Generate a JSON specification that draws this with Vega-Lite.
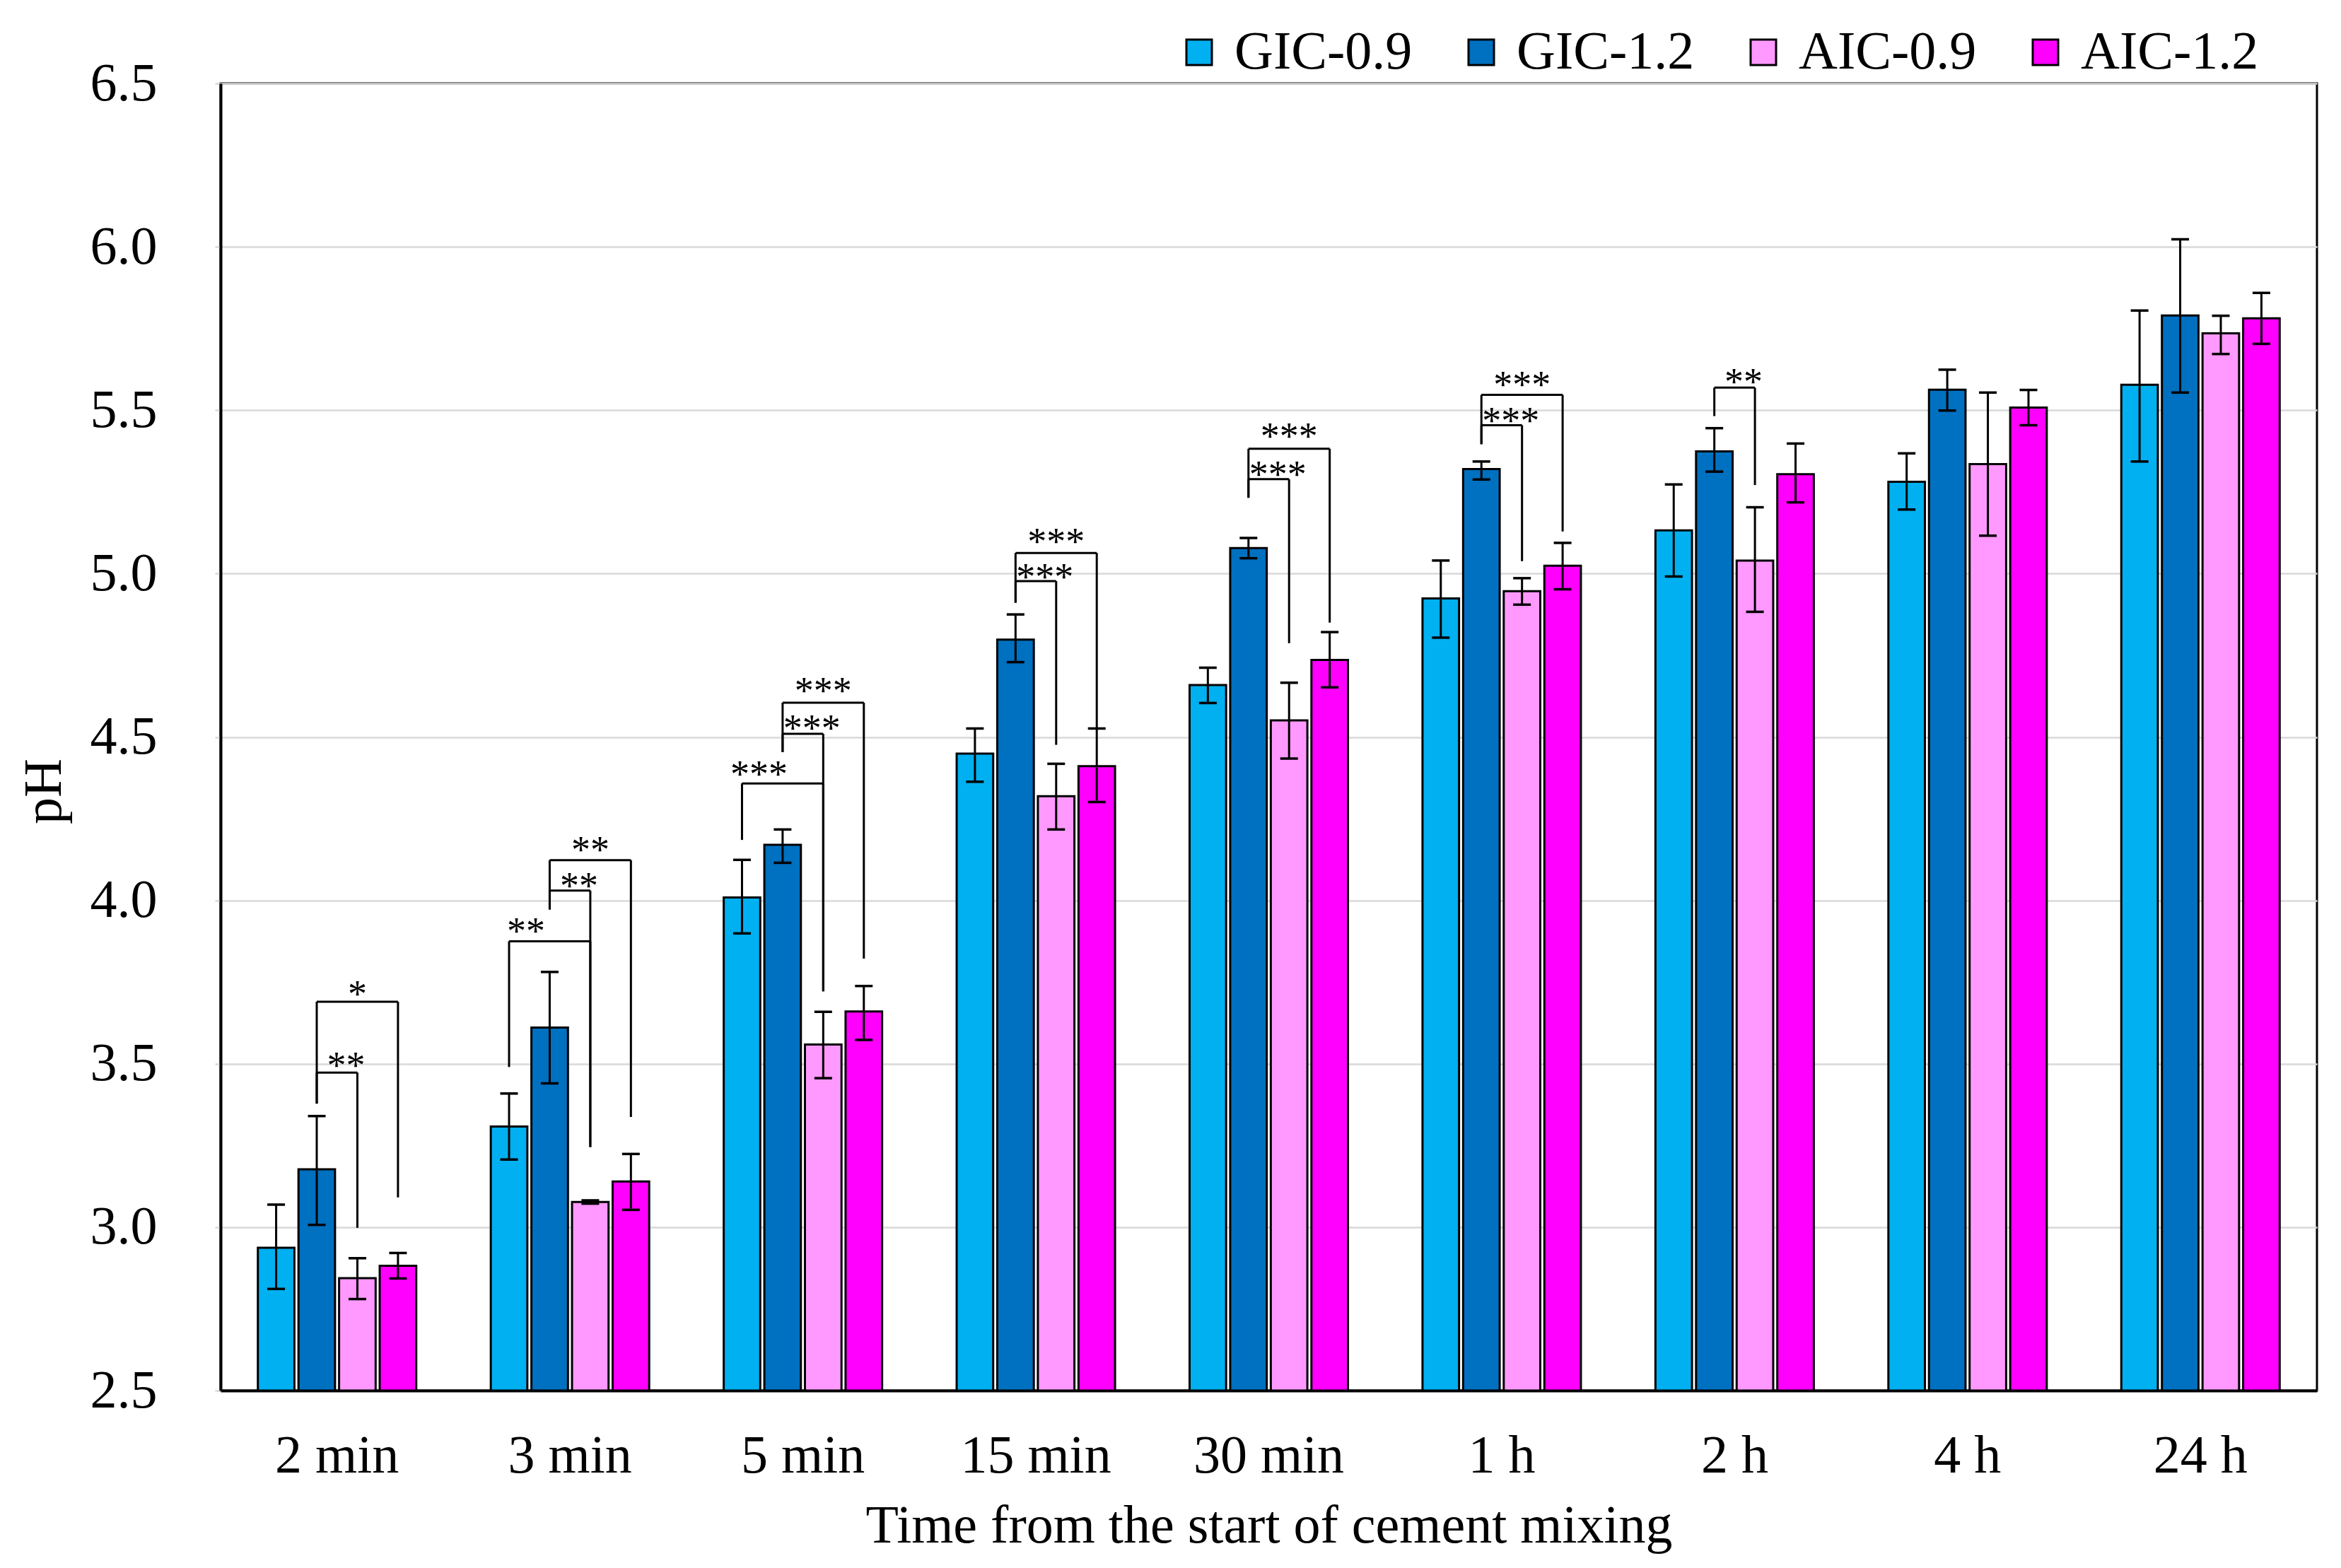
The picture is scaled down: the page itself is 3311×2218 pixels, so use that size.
{
  "$schema": "https://vega.github.io/schema/vega-lite/v6.json",
  "width": 2965,
  "height": 1849,
  "autosize": {"type": "none"},
  "padding": {"left": 312, "top": 118, "right": 34, "bottom": 251},
  "background": "white",
  "config": {
    "font": "Liberation Serif",
    "view": {"stroke": "black", "strokeWidth": 3},
    "legend": {
      "orient": "none",
      "legendX": 1346,
      "legendY": -82,
      "direction": "horizontal",
      "symbolType": "square",
      "symbolSize": 1296,
      "symbolStrokeColor": "black",
      "symbolStrokeWidth": 3,
      "symbolOpacity": 1,
      "labelFont": "Liberation Serif",
      "labelFontSize": 76,
      "labelColor": "black",
      "labelOffset": 12,
      "columnPadding": 59,
      "labelLimit": 0
    }
  },
  "datasets": {
    "bars": [
      {"time": "2 min", "series": "GIC-0.9", "ph": 2.937, "lo": 2.811, "hi": 3.069},
      {"time": "2 min", "series": "GIC-1.2", "ph": 3.177, "lo": 3.007, "hi": 3.340},
      {"time": "2 min", "series": "AIC-0.9", "ph": 2.844, "lo": 2.780, "hi": 2.905},
      {"time": "2 min", "series": "AIC-1.2", "ph": 2.882, "lo": 2.843, "hi": 2.921},
      {"time": "3 min", "series": "GIC-0.9", "ph": 3.308, "lo": 3.207, "hi": 3.409},
      {"time": "3 min", "series": "GIC-1.2", "ph": 3.611, "lo": 3.440, "hi": 3.781},
      {"time": "3 min", "series": "AIC-0.9", "ph": 3.077, "lo": 3.072, "hi": 3.082},
      {"time": "3 min", "series": "AIC-1.2", "ph": 3.140, "lo": 3.053, "hi": 3.224},
      {"time": "5 min", "series": "GIC-0.9", "ph": 4.009, "lo": 3.899, "hi": 4.124},
      {"time": "5 min", "series": "GIC-1.2", "ph": 4.170, "lo": 4.115, "hi": 4.217},
      {"time": "5 min", "series": "AIC-0.9", "ph": 3.559, "lo": 3.456, "hi": 3.659},
      {"time": "5 min", "series": "AIC-1.2", "ph": 3.660, "lo": 3.573, "hi": 3.738},
      {"time": "15 min", "series": "GIC-0.9", "ph": 4.449, "lo": 4.363, "hi": 4.526},
      {"time": "15 min", "series": "GIC-1.2", "ph": 4.798, "lo": 4.729, "hi": 4.875},
      {"time": "15 min", "series": "AIC-0.9", "ph": 4.319, "lo": 4.217, "hi": 4.418},
      {"time": "15 min", "series": "AIC-1.2", "ph": 4.411, "lo": 4.301, "hi": 4.526},
      {"time": "30 min", "series": "GIC-0.9", "ph": 4.659, "lo": 4.604, "hi": 4.712},
      {"time": "30 min", "series": "GIC-1.2", "ph": 5.078, "lo": 5.047, "hi": 5.109},
      {"time": "30 min", "series": "AIC-0.9", "ph": 4.551, "lo": 4.434, "hi": 4.666},
      {"time": "30 min", "series": "AIC-1.2", "ph": 4.736, "lo": 4.652, "hi": 4.821},
      {"time": "1 h", "series": "GIC-0.9", "ph": 4.924, "lo": 4.804, "hi": 5.040},
      {"time": "1 h", "series": "GIC-1.2", "ph": 5.320, "lo": 5.288, "hi": 5.343},
      {"time": "1 h", "series": "AIC-0.9", "ph": 4.946, "lo": 4.905, "hi": 4.986},
      {"time": "1 h", "series": "AIC-1.2", "ph": 5.024, "lo": 4.952, "hi": 5.094},
      {"time": "2 h", "series": "GIC-0.9", "ph": 5.132, "lo": 4.991, "hi": 5.273},
      {"time": "2 h", "series": "GIC-1.2", "ph": 5.374, "lo": 5.312, "hi": 5.445},
      {"time": "2 h", "series": "AIC-0.9", "ph": 5.040, "lo": 4.883, "hi": 5.203},
      {"time": "2 h", "series": "AIC-1.2", "ph": 5.304, "lo": 5.218, "hi": 5.398},
      {"time": "4 h", "series": "GIC-0.9", "ph": 5.281, "lo": 5.196, "hi": 5.368},
      {"time": "4 h", "series": "GIC-1.2", "ph": 5.563, "lo": 5.499, "hi": 5.624},
      {"time": "4 h", "series": "AIC-0.9", "ph": 5.335, "lo": 5.116, "hi": 5.554},
      {"time": "4 h", "series": "AIC-1.2", "ph": 5.508, "lo": 5.454, "hi": 5.562},
      {"time": "24 h", "series": "GIC-0.9", "ph": 5.578, "lo": 5.343, "hi": 5.805},
      {"time": "24 h", "series": "GIC-1.2", "ph": 5.790, "lo": 5.554, "hi": 6.023},
      {"time": "24 h", "series": "AIC-0.9", "ph": 5.735, "lo": 5.672, "hi": 5.789},
      {"time": "24 h", "series": "AIC-1.2", "ph": 5.781, "lo": 5.703, "hi": 5.859}
    ],
    "brackets": [
      {"id": "2m-b", "time": "2 min", "from": "GIC-1.2", "to": "AIC-0.9", "level": 3.473, "fromEnd": 3.378, "toEnd": 2.998, "label": "**", "labelY": 3.514},
      {"id": "2m-c", "time": "2 min", "from": "GIC-1.2", "to": "AIC-1.2", "level": 3.690, "fromEnd": 3.378, "toEnd": 3.091, "label": "*", "labelY": 3.734},
      {"id": "3m-a", "time": "3 min", "from": "GIC-0.9", "to": "AIC-0.9", "level": 3.875, "fromEnd": 3.490, "toEnd": 3.245, "label": "**", "labelY": 3.925},
      {"id": "3m-b", "time": "3 min", "from": "GIC-1.2", "to": "AIC-0.9", "level": 4.030, "fromEnd": 3.972, "toEnd": 3.245, "label": "**", "labelY": 4.064},
      {"id": "3m-c", "time": "3 min", "from": "GIC-1.2", "to": "AIC-1.2", "level": 4.123, "fromEnd": 3.972, "toEnd": 3.337, "label": "**", "labelY": 4.174},
      {"id": "5m-a", "time": "5 min", "from": "GIC-0.9", "to": "AIC-0.9", "level": 4.358, "fromEnd": 4.185, "toEnd": 3.722, "label": "***", "labelY": 4.406},
      {"id": "5m-b", "time": "5 min", "from": "GIC-1.2", "to": "AIC-0.9", "level": 4.510, "fromEnd": 4.454, "toEnd": 3.722, "label": "***", "labelY": 4.546},
      {"id": "5m-c", "time": "5 min", "from": "GIC-1.2", "to": "AIC-1.2", "level": 4.605, "fromEnd": 4.454, "toEnd": 3.822, "label": "***", "labelY": 4.661},
      {"id": "15m-b", "time": "15 min", "from": "GIC-1.2", "to": "AIC-0.9", "level": 4.977, "fromEnd": 4.911, "toEnd": 4.476, "label": "***", "labelY": 5.010},
      {"id": "15m-c", "time": "15 min", "from": "GIC-1.2", "to": "AIC-1.2", "level": 5.063, "fromEnd": 4.911, "toEnd": 4.526, "label": "***", "labelY": 5.118},
      {"id": "30m-b", "time": "30 min", "from": "GIC-1.2", "to": "AIC-0.9", "level": 5.289, "fromEnd": 5.232, "toEnd": 4.787, "label": "***", "labelY": 5.324},
      {"id": "30m-c", "time": "30 min", "from": "GIC-1.2", "to": "AIC-1.2", "level": 5.382, "fromEnd": 5.232, "toEnd": 4.850, "label": "***", "labelY": 5.440},
      {"id": "1h-b", "time": "1 h", "from": "GIC-1.2", "to": "AIC-0.9", "level": 5.454, "fromEnd": 5.396, "toEnd": 5.038, "label": "***", "labelY": 5.487},
      {"id": "1h-c", "time": "1 h", "from": "GIC-1.2", "to": "AIC-1.2", "level": 5.547, "fromEnd": 5.396, "toEnd": 5.129, "label": "***", "labelY": 5.598},
      {"id": "2h-b", "time": "2 h", "from": "GIC-1.2", "to": "AIC-0.9", "level": 5.569, "fromEnd": 5.482, "toEnd": 5.271, "label": "**", "labelY": 5.606}
    ]
  },
  "encoding": {
    "x": {
      "field": "time",
      "type": "nominal",
      "title": "Time from the start of cement mixing",
      "scale": {
        "domain": ["2 min", "3 min", "5 min", "15 min", "30 min", "1 h", "2 h", "4 h", "24 h"],
        "paddingInner": 0.32,
        "paddingOuter": 0.16
      },
      "axis": {
        "labelAngle": 0,
        "labelFont": "Liberation Serif",
        "labelFontSize": 76,
        "labelColor": "black",
        "labelLimit": 0,
        "ticks": false,
        "tickSize": 0,
        "labelPadding": 115,
        "labelBaseline": "alphabetic",
        "domainColor": "black",
        "domainWidth": 4,
        "grid": false,
        "titleFont": "Liberation Serif",
        "titleFontSize": 76,
        "titleFontWeight": "normal",
        "titleColor": "black",
        "titleY": 214,
        "titleBaseline": "alphabetic"
      }
    }
  },
  "layer": [
    {
      "data": {"name": "bars"},
      "mark": {"type": "bar", "stroke": "black", "strokeWidth": 3},
      "encoding": {
        "xOffset": {
          "field": "series",
          "type": "nominal",
          "scale": {"domain": ["GIC-0.9", "GIC-1.2", "AIC-0.9", "AIC-1.2"], "paddingInner": 0.1, "paddingOuter": 0}
        },
        "y": {
          "field": "ph",
          "type": "quantitative",
          "title": "pH",
          "scale": {"domain": [2.5, 6.5], "nice": false, "zero": false},
          "axis": {
            "values": [2.5, 3, 3.5, 4, 4.5, 5, 5.5, 6, 6.5],
            "format": ".1f",
            "labelFont": "Liberation Serif",
            "labelFontSize": 76,
            "labelColor": "black",
            "labelPadding": 82,
            "tickSize": 8,
            "tickColor": "#D9D9D9",
            "tickWidth": 2.5,
            "grid": true,
            "gridColor": "#D9D9D9",
            "gridWidth": 2.5,
            "domainColor": "black",
            "domainWidth": 4,
            "titleFont": "Liberation Serif",
            "titleFontSize": 76,
            "titleFontWeight": "normal",
            "titleColor": "black",
            "titleAngle": 270,
            "titleX": -250,
            "titleY": 1001,
            "titleAlign": "center",
            "titleBaseline": "middle"
          }
        },
        "y2": {"datum": 2.5},
        "color": {
          "field": "series",
          "type": "nominal",
          "scale": {
            "domain": ["GIC-0.9", "GIC-1.2", "AIC-0.9", "AIC-1.2"],
            "range": ["#00B0F0", "#0070C0", "#FF99FF", "#FF00FF"]
          },
          "legend": {"title": null}
        }
      }
    },
    {
      "data": {"name": "bars"},
      "mark": {"type": "rule", "color": "black", "strokeWidth": 3},
      "encoding": {
        "xOffset": {"field": "series", "type": "nominal"},
        "y": {"field": "lo", "type": "quantitative", "title": "pH"},
        "y2": {"field": "hi"}
      }
    },
    {
      "data": {"name": "bars"},
      "mark": {"type": "tick", "orient": "horizontal", "color": "black", "size": 25, "thickness": 3.5, "opacity": 1},
      "encoding": {
        "xOffset": {"field": "series", "type": "nominal"},
        "y": {"field": "lo", "type": "quantitative", "title": "pH"}
      }
    },
    {
      "data": {"name": "bars"},
      "mark": {"type": "tick", "orient": "horizontal", "color": "black", "size": 25, "thickness": 3.5, "opacity": 1},
      "encoding": {
        "xOffset": {"field": "series", "type": "nominal"},
        "y": {"field": "hi", "type": "quantitative", "title": "pH"}
      }
    },
    {
      "data": {"name": "brackets"},
      "mark": {"type": "rule", "color": "black", "strokeWidth": 3},
      "encoding": {
        "xOffset": {"field": "from", "type": "nominal"},
        "y": {"field": "level", "type": "quantitative", "title": "pH"},
        "y2": {"field": "fromEnd"}
      }
    },
    {
      "data": {"name": "brackets"},
      "mark": {"type": "rule", "color": "black", "strokeWidth": 3},
      "encoding": {
        "xOffset": {"field": "to", "type": "nominal"},
        "y": {"field": "level", "type": "quantitative", "title": "pH"},
        "y2": {"field": "toEnd"}
      }
    },
    {
      "data": {"name": "brackets"},
      "transform": [{"fold": ["from", "to"], "as": ["end", "pair"]}],
      "mark": {"type": "line", "color": "black", "strokeWidth": 3},
      "encoding": {
        "xOffset": {"field": "pair", "type": "nominal"},
        "y": {"field": "level", "type": "quantitative", "title": "pH"},
        "detail": {"field": "id"}
      }
    },
    {
      "data": {"name": "brackets"},
      "transform": [{"filter": "datum.to === 'AIC-1.2'"}],
      "mark": {"type": "text", "font": "Liberation Serif", "fontSize": 54, "color": "black", "baseline": "alphabetic", "align": "center", "dy": 27},
      "encoding": {
        "xOffset": {"datum": "AIC-0.9", "type": "nominal"},
        "y": {"field": "labelY", "type": "quantitative", "title": "pH"},
        "text": {"field": "label"}
      }
    },
    {
      "data": {"name": "brackets"},
      "transform": [{"filter": "datum.from === 'GIC-1.2' && datum.to === 'AIC-0.9'"}],
      "mark": {"type": "text", "font": "Liberation Serif", "fontSize": 54, "color": "black", "baseline": "alphabetic", "align": "center", "dy": 27, "dx": -16},
      "encoding": {
        "xOffset": {"field": "to", "type": "nominal"},
        "y": {"field": "labelY", "type": "quantitative", "title": "pH"},
        "text": {"field": "label"}
      }
    },
    {
      "data": {"name": "brackets"},
      "transform": [{"filter": "datum.from === 'GIC-0.9'"}],
      "mark": {"type": "text", "font": "Liberation Serif", "fontSize": 54, "color": "black", "baseline": "alphabetic", "align": "center", "dy": 27, "dx": 24},
      "encoding": {
        "xOffset": {"field": "from", "type": "nominal"},
        "y": {"field": "labelY", "type": "quantitative", "title": "pH"},
        "text": {"field": "label"}
      }
    }
  ]
}
